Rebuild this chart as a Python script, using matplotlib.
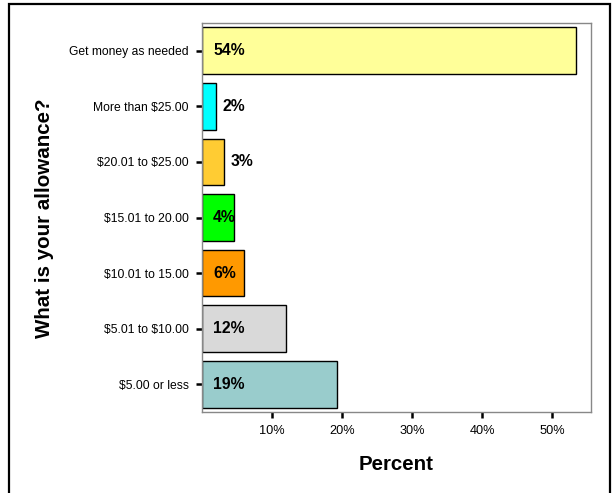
import matplotlib
matplotlib.use("Agg")
import matplotlib.pyplot as plt
from matplotlib.patches import Rectangle

plt.rcParams['font.family'] = ['Liberation Sans', 'DejaVu Sans']

categories = ["$5.00 or less", "$5.01 to $10.00", "$10.01 to 15.00", "$15.01 to 20.00",
              "$20.01 to $25.00", "More than $25.00", "Get money as needed"]
values = [19.3, 12.0, 6.0, 4.6, 3.2, 2.0, 53.4]
labels = ["19%", "12%", "6%", "4%", "3%", "2%", "54%"]
colors = ["#99CCCC", "#D9D9D9", "#FF9900", "#00FF00", "#FFCC33", "#00FFFF", "#FFFF99"]
xticks = [10, 20, 30, 40, 50]
xticklabels = ["10%", "20%", "30%", "40%", "50%"]

fig = plt.figure(figsize=(6.13, 4.93), dpi=100)
ax = fig.add_axes([202/613, 1-412/493, (591-202)/613, (412-23)/493])

ypos = list(range(len(categories)))
ax.barh(ypos, values, height=0.84, color=colors, edgecolor="black", linewidth=1.0)

for y, v, lab in zip(ypos, values, labels):
    if v < 4:
        ax.annotate(lab, (v, y), xytext=(4.5, 0), textcoords="offset points",
                    ha="left", va="center", fontsize=11.3, fontweight="bold")
    else:
        ax.text(1.6, y, lab, ha="left", va="center", fontsize=11.3, fontweight="bold")

ax.set_xlim(0, 55.5)
ax.set_ylim(-0.5, len(categories) - 0.5)
ax.set_yticks(ypos)
ax.set_yticklabels([c.replace("$", r"\$") for c in categories], fontsize=8.75)
ax.set_xticks(xticks)
ax.set_xticklabels(xticklabels, fontsize=9.2)
ax.tick_params(axis="both", direction="out", length=4.5, width=1.8, color="black")
ax.tick_params(axis="y", pad=5)
ax.tick_params(axis="x", pad=5)

for s in ax.spines.values():
    s.set_color("#888888")
    s.set_linewidth(1.0)

ax.set_xlabel("Percent", fontsize=14.8, fontweight="bold", labelpad=13)
fig.text(45/613, 1-218/493, "What is your allowance?", rotation=90, ha="center", va="center",
         fontsize=14.8, fontweight="bold")

fig.patches.append(Rectangle((9/613, -0.1), (610-9)/613, 1.1 - 4/493, transform=fig.transFigure,
                             fill=False, edgecolor="black", linewidth=1.6))

fig.savefig("out.png", dpi=100)
